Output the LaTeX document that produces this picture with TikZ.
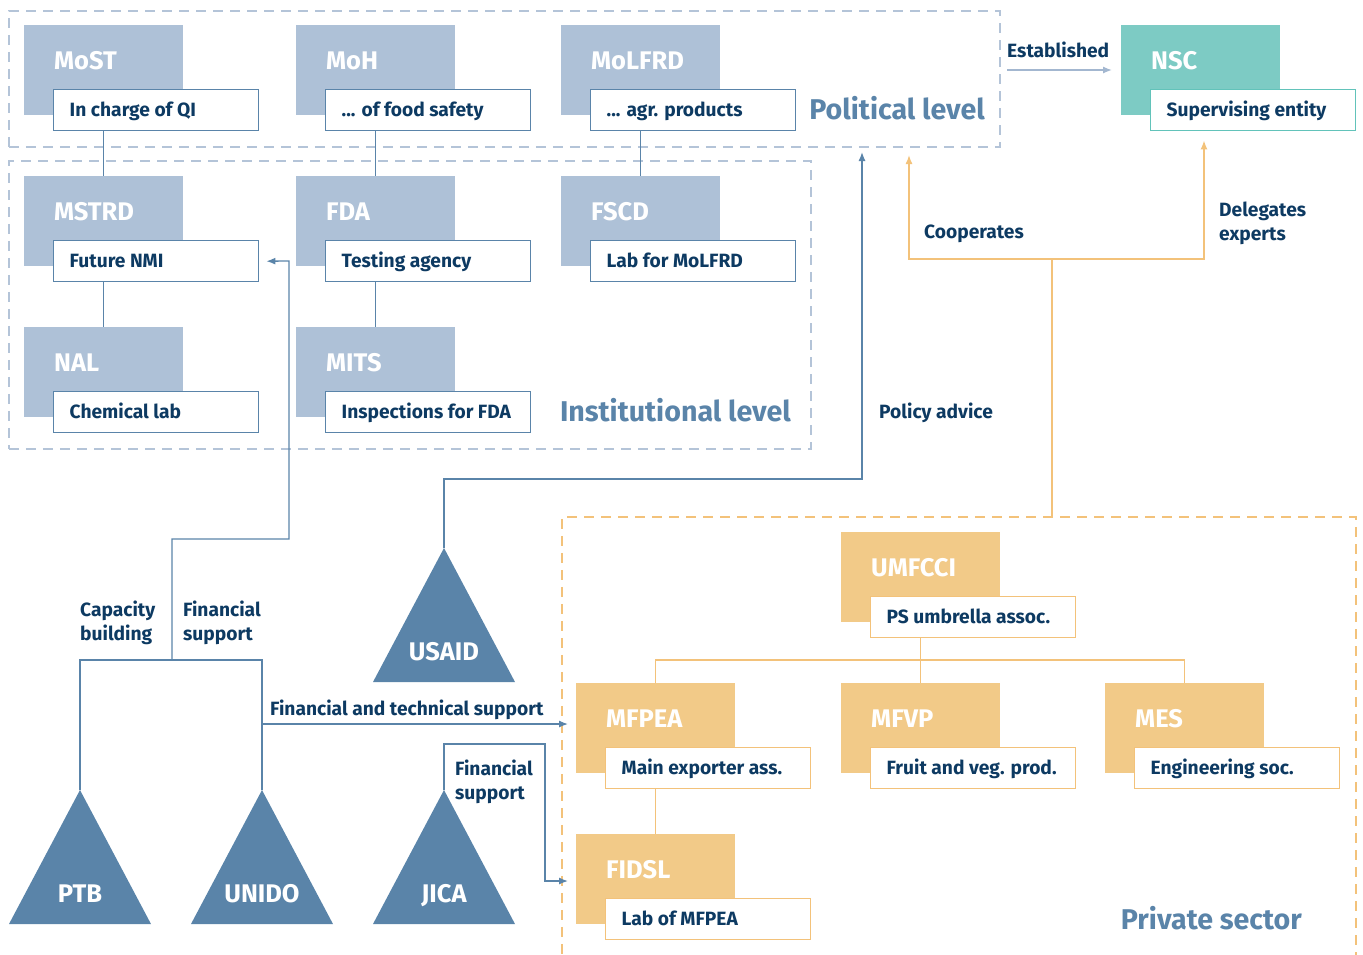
\documentclass[tikz,border=0pt]{standalone}
\usepackage{fontspec}
\setmainfont{Fira Sans}
\usetikzlibrary{arrows.meta}
\definecolor{steel}{HTML}{5A84A9}
\definecolor{bluefill}{HTML}{AEC1D7}
\definecolor{dashblue}{HTML}{B4C4D8}
\definecolor{estcol}{HTML}{A3B7D0}
\definecolor{tealfill}{HTML}{7DCBC4}
\definecolor{tealline}{HTML}{62C3BA}
\definecolor{orfill}{HTML}{F2CA88}
\definecolor{orline}{HTML}{F3C27A}
\definecolor{navy}{HTML}{0D3A62}
\tikzset{
  fillbox/.style={draw=none, fill=#1, minimum width=159pt, minimum height=90pt, anchor=north west, inner sep=0pt},
  descbox/.style={draw=#1, line width=1.4pt, fill=white, minimum width=205pt, minimum height=41pt,
    anchor=north west, inner xsep=16pt, inner ysep=0pt,
    font=\bfseries\fontsize{19.2}{23}\selectfont, text=navy, text height=13.3pt, text depth=0pt},
  titletext/.style={anchor=west, inner sep=0pt, text=white, font=\bfseries\fontsize{25.5}{30}\selectfont,
    text height=17.5pt, text depth=0pt},
  tritext/.style={inner sep=0pt, text=white, font=\bfseries\fontsize{25.5}{30}\selectfont,
    text height=17.5pt, text depth=0pt},
  lbl/.style={inner sep=0pt, text=navy, font=\bfseries\fontsize{19.2}{24}\selectfont, align=left},
  seclbl/.style={inner sep=0pt, text=steel, font=\bfseries\fontsize{28.6}{34}\selectfont},
  dbox/.style={draw=#1, line width=1.5pt, dash pattern=on 10pt off 7pt, anchor=north west, inner sep=0pt},
  bl/.style={draw=steel, line width=1.3pt},
  ol/.style={draw=orline, line width=1.5pt},
  arr/.style={-{Latex[length=9pt,width=7pt]}},
}
\newcommand\orgunit[7]{%
  \node[fillbox=#6] (#1) at (#2,#3) {};
  \node[titletext] (#1-t) at ([xshift=30pt,yshift=-36pt]#1.north west) {#4};
  \node[descbox=#7] (#1-d) at ([xshift=29pt,yshift=-64pt]#1.north west) {\makebox[173pt][l]{#5}};
}
\newcommand\donor[4]{%
  \coordinate (#1-apex) at (#2,#3);
  \fill[steel] (#1-apex) -- ++(71,134) -- ++(-142,0) -- cycle;
  \node[tritext] (#1) at ([yshift=-104pt]#1-apex) {#4};
}
\begin{document}
\begin{tikzpicture}[x=1pt,y=-1pt]
\useasboundingbox (0,0) rectangle (1363,954);
% dashed regions
\node[dbox=dashblue, minimum width=991pt, minimum height=136pt] (pol) at (8,10) {};
\node[dbox=dashblue, minimum width=802pt, minimum height=288pt] (ins) at (8,160) {};
\node[dbox=orline, minimum width=794pt, minimum height=450pt] (priv) at (561,516) {};
% units
\orgunit{most}{24}{25}{MoST}{In charge of QI}{bluefill}{steel}
\orgunit{moh}{296}{25}{MoH}{... of food safety}{bluefill}{steel}
\orgunit{molfrd}{561}{25}{MoLFRD}{... agr. products}{bluefill}{steel}
\orgunit{nsc}{1121}{25}{NSC}{Supervising entity}{tealfill}{tealline}
\orgunit{mstrd}{24}{176}{MSTRD}{Future NMI}{bluefill}{steel}
\orgunit{fda}{296}{176}{FDA}{Testing agency}{bluefill}{steel}
\orgunit{fscd}{561}{176}{FSCD}{Lab for MoLFRD}{bluefill}{steel}
\orgunit{nal}{24}{327}{NAL}{Chemical lab}{bluefill}{steel}
\orgunit{mits}{296}{327}{MITS}{Inspections for FDA}{bluefill}{steel}
\orgunit{umfcci}{841}{532}{UMFCCI}{PS umbrella assoc.}{orfill}{orline}
\orgunit{mfpea}{576}{683}{MFPEA}{Main exporter ass.}{orfill}{orline}
\orgunit{mfvp}{841}{683}{MFVP}{Fruit and veg. prod.}{orfill}{orline}
\orgunit{mes}{1105}{683}{MES}{Engineering soc.}{orfill}{orline}
\orgunit{fidsl}{576}{834}{FIDSL}{Lab of MFPEA}{orfill}{orline}
% section labels
\node[seclbl, anchor=base east] (polL) at (985,119) {Political level};
\node[seclbl, anchor=base east] (insL) at (791,421) {Institutional level};
\node[seclbl, anchor=base east] (privL) at (1302,929) {Private sector};
% donors
\donor{ptb}{80}{790}{PTB}
\donor{unido}{262}{790}{UNIDO}
\donor{jica}{444}{790}{JICA}
\donor{usaid}{444}{548}{USAID}
% hierarchy connectors (blue)
\draw[bl] (most.center |- most-d.south) -- (mstrd.north);
\draw[bl] (moh.center |- moh-d.south) -- (fda.north);
\draw[bl] (molfrd.center |- molfrd-d.south) -- (fscd.north);
\draw[bl] (mstrd.center |- mstrd-d.south) -- (nal.north);
\draw[bl] (fda.center |- fda-d.south) -- (mits.north);
% hierarchy connectors (orange)
\draw[ol] (umfcci.center |- umfcci-d.south) -- (mfvp.north);
\draw[ol] (mfpea.north) |- (mes.north |- 0,660) -- (mes.north);
\draw[ol] (mfpea.center |- mfpea-d.south) -- (fidsl.north);
% donor connectors
\coordinate (join) at (172,660);
\draw[bl] (ptb-apex) |- (join) -| (unido-apex);
\draw[bl,arr] (join) -- (172,539) -| (289,261) -- ([xshift=7pt]mstrd-d.east);
\draw[bl,arr] (262,724) -- ([xshift=-8pt]mfpea.west |- 0,724);
\draw[bl,arr] (jica-apex) |- (545,744) |- ([xshift=-8pt]fidsl.west |- 0,881);
\coordinate (polin) at (862,152);
\draw[bl,arr] (usaid-apex) |- (polin |- 0,479) -- (polin);
% orange connectors to political level / NSC
\coordinate (obar) at (1052,259);
\draw[ol] (priv.north -| obar) -- (obar);
\draw[ol,arr] (obar) -| (909,155);
\draw[ol,arr] (obar) -| ([yshift=-9pt]nsc-d.south -| 1204,0);
\draw[draw=estcol, line width=1.3pt, arr] (1007,70) -- ([xshift=-9pt]nsc.west |- 0,70);
% labels
\node[lbl, anchor=base west] (lEst) at (1007,57) {Established};
\node[lbl, anchor=base west] (lCoop) at (924,238) {Cooperates};
\node[lbl, anchor=base west] (lDel) at (1219,240) {Delegates\\experts};
\node[lbl, anchor=base west] (lPol) at (879,418) {Policy advice};
\node[lbl, anchor=base west] (lCap) at (80,640) {Capacity\\building};
\node[lbl, anchor=base west] (lFin1) at (183,640) {Financial\\support};
\node[lbl, anchor=base west] (lFT) at (270,715) {Financial and technical support};
\node[lbl, anchor=base west] (lFin2) at (455,799) {Financial\\support};
\end{tikzpicture}
\end{document}
